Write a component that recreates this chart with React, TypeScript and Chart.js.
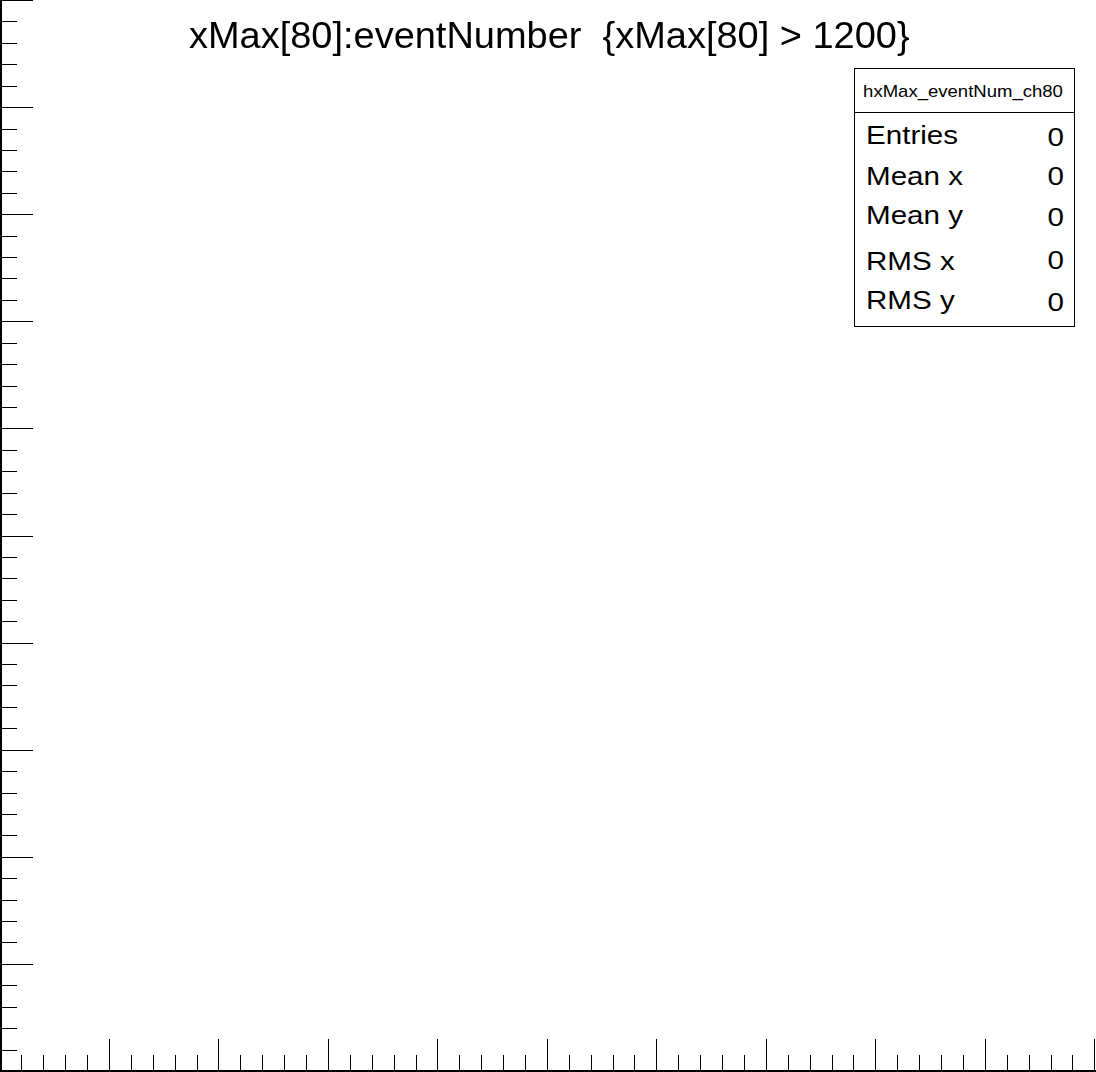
import React, { useEffect, useRef } from "react";
import { Chart, registerables } from "chart.js";

Chart.register(...registerables);

// ---- data ----
const titleText = "xMax[80]:eventNumber  {xMax[80] > 1200}";
const histName = "hxMax_eventNum_ch80";
const statLabels = ["Entries", "Mean x", "Mean y", "RMS x", "RMS y"];
const statValues = [0, 0, 0, 0, 0];
// the selection removed every entry: the histogram is empty
const eventNumber: number[] = [];
const xMax80: number[] = [];
const xMajorTicks = [0, 0.1, 0.2, 0.3, 0.4, 0.5, 0.6, 0.7, 0.8, 0.9, 1.0];
const yMajorTicks = [0, 0.1, 0.2, 0.3, 0.4, 0.5, 0.6, 0.7, 0.8, 0.9, 1.0];
const minorDivisions = 5;

const W = 1096;
const H = 1072;
const FONT = '"Liberation Sans", Arial, Helvetica, sans-serif';

const rootAxesPlugin = {
  id: "rootAxes",
  beforeDraw(chart: any) {
    const ctx = chart.ctx;
    ctx.save();
    ctx.fillStyle = "#ffffff";
    ctx.fillRect(0, 0, chart.width, chart.height);
    ctx.restore();
  },
  afterDraw(chart: any) {
    const ctx: CanvasRenderingContext2D = chart.ctx;
    const xs = chart.scales.x;
    const ys = chart.scales.y;
    const x0 = Math.floor(xs.getPixelForValue(xMajorTicks[0]));
    const y0 = Math.floor(ys.getPixelForValue(yMajorTicks[0]));
    ctx.save();
    ctx.fillStyle = "#000";
    // axis lines
    ctx.fillRect(x0, 0, 2, chart.height);
    ctx.fillRect(0, y0 - 1, chart.width, 2);
    ctx.strokeStyle = "#000";
    ctx.lineWidth = 1;
    const majorLen = 32;
    const minorLen = 16;
    const drawX = (v: number, len: number) => {
      const p = Math.floor(xs.getPixelForValue(v)) + 0.5;
      ctx.beginPath();
      ctx.moveTo(p, y0);
      ctx.lineTo(p, y0 - len);
      ctx.stroke();
    };
    const drawY = (v: number, len: number) => {
      const p = Math.floor(ys.getPixelForValue(v)) + 0.5;
      ctx.beginPath();
      ctx.moveTo(x0, p);
      ctx.lineTo(x0 + len + 1, p);
      ctx.stroke();
    };
    for (let i = 0; i < xMajorTicks.length; i++) {
      drawX(xMajorTicks[i], majorLen);
      if (i < xMajorTicks.length - 1) {
        const step = (xMajorTicks[i + 1] - xMajorTicks[i]) / minorDivisions;
        for (let k = 1; k < minorDivisions; k++) drawX(xMajorTicks[i] + k * step, minorLen);
      }
    }
    for (let i = 0; i < yMajorTicks.length; i++) {
      drawY(yMajorTicks[i], majorLen);
      if (i < yMajorTicks.length - 1) {
        const step = (yMajorTicks[i + 1] - yMajorTicks[i]) / minorDivisions;
        for (let k = 1; k < minorDivisions; k++) drawY(yMajorTicks[i] + k * step, minorLen);
      }
    }
    ctx.restore();
  },
};

const labelBaselines = [145, 186, 225, 271, 310];
const valueBaselines = [146.5, 186, 227, 270, 312];

export default function App() {
  const canvasRef = useRef<HTMLCanvasElement | null>(null);

  useEffect(() => {
    if (!canvasRef.current) return;
    const chart = new Chart(canvasRef.current, {
      type: "scatter",
      data: {
        datasets: [
          {
            label: histName,
            data: eventNumber.map((e, i) => ({ x: e, y: xMax80[i] })),
            pointRadius: 1,
            backgroundColor: "#000",
            borderColor: "#000",
          },
        ],
      },
      options: {
        responsive: false,
        devicePixelRatio: 1,
        animation: false,
        layout: { padding: { left: 0, right: 1.2, top: 0.5, bottom: 0.5 } },
        scales: {
          x: { type: "linear", display: false, min: xMajorTicks[0], max: xMajorTicks[xMajorTicks.length - 1] },
          y: { type: "linear", display: false, min: yMajorTicks[0], max: yMajorTicks[yMajorTicks.length - 1] },
        },
        plugins: {
          legend: { display: false },
          tooltip: { enabled: false },
          title: { display: false },
        },
      },
      plugins: [rootAxesPlugin],
    });
    return () => chart.destroy();
  }, []);

  const asc = 0.8465;
  const statFs = 25.5;
  const statScale = 1.16;

  return (
    <div style={{ position: "absolute", left: 0, top: 0, width: W, height: H, background: "#fff", overflow: "hidden" }}>
      <canvas ref={canvasRef} width={W} height={H} style={{ display: "block", width: W, height: H }} />
      <div
        style={{
          position: "absolute",
          left: 188.5,
          top: 48.7 - asc * 36.5,
          fontFamily: FONT,
          fontSize: 36.5,
          lineHeight: "36.5px",
          whiteSpace: "pre",
          color: "#000",
          transform: "scaleX(1.04)",
          transformOrigin: "left top",
        }}
      >
        {titleText}
      </div>
      <div
        style={{
          position: "absolute",
          left: 854,
          top: 68,
          width: 221,
          height: 259,
          boxSizing: "border-box",
          border: "1px solid #000",
          background: "#fff",
        }}
      />
      <div style={{ position: "absolute", left: 854, top: 112, width: 221, height: 1, background: "#000" }} />
      <div
        style={{
          position: "absolute",
          left: 862.5,
          width: 200,
          top: 97.3 - asc * 17,
          textAlign: "center",
          fontFamily: FONT,
          fontSize: 17,
          lineHeight: "17px",
          whiteSpace: "pre",
          color: "#000",
          transform: "scaleX(1.09)",
          transformOrigin: "center top",
        }}
      >
        {histName}
      </div>
      {statLabels.map((lab, i) => (
        <div
          key={"l" + i}
          style={{
            position: "absolute",
            left: 865.5,
            top: labelBaselines[i] - asc * statFs,
            fontFamily: FONT,
            fontSize: statFs,
            lineHeight: statFs + "px",
            whiteSpace: "pre",
            color: "#000",
            transform: `scaleX(${statScale})`,
            transformOrigin: "left top",
          }}
        >
          {lab}
        </div>
      ))}
      {statValues.map((v, i) => (
        <div
          key={"v" + i}
          style={{
            position: "absolute",
            left: 963.5,
            width: 100,
            top: valueBaselines[i] - asc * statFs,
            textAlign: "right",
            fontFamily: FONT,
            fontSize: statFs,
            lineHeight: statFs + "px",
            whiteSpace: "pre",
            color: "#000",
            transform: `scaleX(${statScale})`,
            transformOrigin: "right top",
          }}
        >
          {String(v)}
        </div>
      ))}
    </div>
  );
}
